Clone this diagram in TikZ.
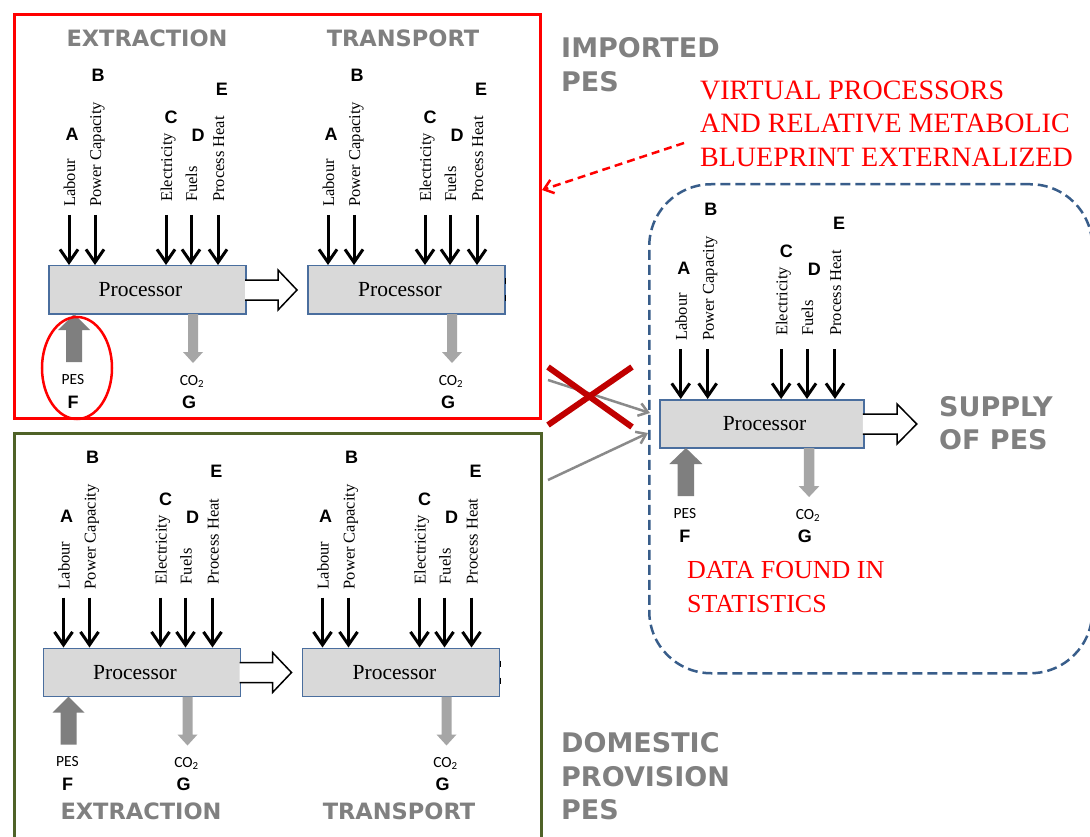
\documentclass[tikz,border=0pt]{standalone}
\usepackage{fontspec}
\setmainfont{Liberation Serif}
\newfontfamily\lettfont{Liberation Sans}
\newfontfamily\headfont{DejaVu Sans}
\newfontfamily\minifont{Carlito}
\usetikzlibrary{arrows.meta,shapes.geometric}

\definecolor{framered}{HTML}{FF0000}
\definecolor{crossred}{HTML}{C00000}
\definecolor{domgreen}{HTML}{4F6228}
\definecolor{dashblue}{HTML}{385D8A}
\definecolor{boxblue}{HTML}{4A6E9E}
\definecolor{boxgray}{HTML}{D9D9D9}
\definecolor{headgray}{HTML}{808080}
\definecolor{pesgray}{HTML}{7F7F7F}
\definecolor{co2gray}{HTML}{A6A6A6}
\definecolor{linkgray}{HTML}{8A8A8A}

\tikzset{
  procbox/.style={draw=boxblue, fill=boxgray, line width=1.5pt, minimum height=48pt,
    inner sep=0pt, anchor=north west},
  proctext/.style={inner sep=0pt, font=\fontsize{21.5}{24}\selectfont},
  flowlabel/.style={rotate=90, anchor=base west, inner sep=0pt,
    font=\fontsize{16.5}{18}\selectfont},
  tagletter/.style={inner sep=0pt, font=\lettfont\bfseries\fontsize{18}{20}\selectfont},
  minitext/.style={inner sep=0pt, font=\minifont\fontsize{15.5}{17}\selectfont},
  inarrow/.style={line width=3pt, -{Straight Barb[length=13pt, width=18pt]}},
  openarrow/.style={fill=white, draw=black, line width=1.5pt, line join=miter},
  heading/.style={inner sep=0pt, text=headgray, font=\headfont\bfseries\fontsize{22.5}{27}\selectfont},
  bigheading/.style={inner sep=0pt, anchor=west, text=headgray,
    font=\headfont\bfseries\fontsize{27}{32}\selectfont},
  redtext/.style={inner sep=0pt, anchor=base west, text=framered},
  feedlink/.style={draw=linkgray, line width=2.5pt, -{Straight Barb[length=9pt, width=13pt]}},
  crossline/.style={draw=crossred, line width=6pt},
}

% one processor with its five inputs and its CO2 output
% #1 name prefix, #2 position of the box corner, #3 horizontal scale,
% #4 box width, #5 x of the box caption, #6 extra parts drawn in the same frame
\newcommand{\procunit}[6]{%
  \begin{scope}[shift={#2}, xscale=#3]
    \node[procbox, minimum width=#4pt] (#1box) at (0,0) {};
    \node[proctext] (#1txt) at (#5,25) {Processor};
    \foreach \k/\px/\lbl/\yb/\lx/\ly in {A/21/Labour/58/24/131,
        B/47/Power Capacity/58/50/190, C/118/Electricity/63/123/148,
        D/143/Fuels/63/150/130, E/170/Process Heat/63/174/176}{%
      \coordinate (#1in\k) at (\px,-50);
      \draw[inarrow] (#1in\k) -- (#1in\k |- #1box.north);
      \node[flowlabel] (#1lab\k) at (\px+6,-\yb) {\lbl};
      \node[tagletter] (#1let\k) at (\lx,-\ly) {\k};
    }
    \fill[co2gray] (140,49) -- (150,49) -- (150,87) -- (155,87) -- (145,98)
      -- (135,87) -- (140,87) -- cycle;
    \node[minitext, anchor=base] (#1co2) at (144,120) {CO\textsubscript{2}};
    \node[tagletter] (#1letG) at (141,137) {G};
    #6
  \end{scope}}

% primary energy input from below
\newcommand{\pesarrow}[1]{%
  \fill[pesgray] (18,97) -- (34,97) -- (34,65) -- (42,65) -- (26,49) -- (10,65)
    -- (18,65) -- cycle;
  \node[minitext, anchor=base] (#1pes) at (25,119) {PES};
  \node[tagletter] (#1letF) at (25,137) {F};}

% hollow arrow leaving the box to the right
\newcommand{\outarrow}[1]{%
  \filldraw[openarrow] (197,15) -- (230,15) -- (230,5) -- (249,25) -- (230,45)
    -- (230,35) -- (197,35);}

% stubs on the right side of the transport boxes
\newcommand{\stubticks}{%
  \draw[line width=1pt] (198.5,13) -- (198.5,19) (198.5,30) -- (198.5,36);}

\begin{document}
\begin{tikzpicture}[x=1pt,y=-1pt]
\useasboundingbox (0,0) rectangle (1090,837);
\fill[white] (0,0) rectangle (1090,837);

% frames
\node[draw=framered, line width=3pt, minimum width=526pt, minimum height=404pt,
  anchor=north west, inner sep=0pt] (impframe) at (13,13) {};
\node[draw=domgreen, line width=3pt, minimum width=527pt, minimum height=420pt,
  anchor=north west, inner sep=0pt] (domframe) at (13,432) {};
\node[draw=dashblue, line width=2.5pt, dash pattern=on 10pt off 5pt,
  rounded corners=62pt, minimum width=443pt, minimum height=489pt,
  anchor=north west, inner sep=0pt] (statbox) at (648,183) {};

% processors
\procunit{te}{(48,265)}{1}{197}{92.5}{\pesarrow{te}\outarrow{te}}
\procunit{tt}{(307,265)}{1}{197}{93}{\stubticks}
\procunit{be}{(42.5,647.5)}{1}{197}{92.5}{\pesarrow{be}\outarrow{be}}
\procunit{bt}{(301.5,647.5)}{1}{197}{93}{\stubticks}
\procunit{rs}{(659,399)}{1.035}{204}{102}{\pesarrow{rs}\outarrow{rs}}

% imported primary energy singled out
\node[ellipse, draw=framered, line width=2.5pt, minimum width=70pt,
  minimum height=102pt, inner sep=0pt] (pesring) at (77,368) {};

% stage headings
\node[heading] (hext1) at (147,38) {EXTRACTION};
\node[heading] (htra1) at (403,38) {TRANSPORT};
\node[heading] (hext2) at (141,811) {EXTRACTION};
\node[heading] (htra2) at (399,811) {TRANSPORT};

\node[bigheading] (imp1) at (561,48) {IMPORTED};
\node[bigheading] (imp2) at (561,82) {PES};
\node[bigheading] (sup1) at (939,407) {SUPPLY};
\node[bigheading] (sup2) at (939,440) {OF PES};
\node[bigheading] (dom1) at (561,743) {DOMESTIC};
\node[bigheading] (dom2) at (561,777) {PROVISION};
\node[bigheading] (dom3) at (561,810) {PES};

% notes
\node[redtext, font=\fontsize{28}{33}\selectfont] (virt1) at (700,100) {VIRTUAL PROCESSORS};
\node[redtext, font=\fontsize{28}{33}\selectfont] (virt2) at (700,133) {AND RELATIVE METABOLIC};
\node[redtext, font=\fontsize{28}{33}\selectfont] (virt3) at (700,167) {BLUEPRINT EXTERNALIZED};
\node[redtext, font=\fontsize{26}{31}\selectfont] (data1) at (687,578) {DATA FOUND IN};
\node[redtext, font=\fontsize{26}{31}\selectfont] (data2) at (687,612) {STATISTICS};

% note pointing at the imported chain
\coordinate (vtail) at (684,143);
\coordinate (vtip) at (542,190);
\draw[framered, line width=2.5pt, dash pattern=on 8pt off 5pt,
  -{Straight Barb[length=9pt, width=14pt]}] (vtail) -- (vtip);

% both chains feed the supply processor
\coordinate (impout) at (548,380);
\coordinate (domout) at (548,480);
\coordinate (supin1) at (650,413);
\coordinate (supin2) at (648,433);
\draw[feedlink] (impout) -- (supin1);
\draw[feedlink] (domout) -- (supin2);

% imported link crossed out
\coordinate (xa) at (548,367);
\coordinate (xb) at (632,427);
\coordinate (xc) at (548,425);
\coordinate (xd) at (632,367);
\draw[crossline] (xa) -- (xb);
\draw[crossline] (xc) -- (xd);
\end{tikzpicture}
\end{document}
